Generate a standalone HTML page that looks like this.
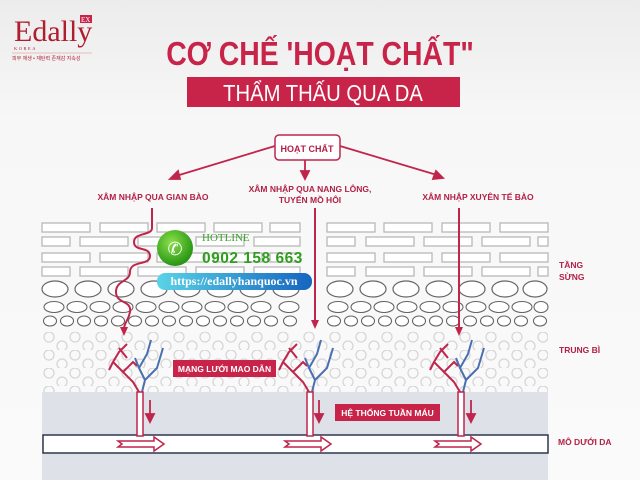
<!DOCTYPE html>
<html><head><meta charset="utf-8"><style>
html,body{margin:0;padding:0;background:#f4f4f4;}
svg{display:block}
text{font-family:"Liberation Sans","DejaVu Sans",sans-serif}
</style></head><body>
<svg width="640" height="480" viewBox="0 0 640 480" xmlns="http://www.w3.org/2000/svg">
<defs>
<linearGradient id="bg" x1="0" y1="0" x2="0" y2="1"><stop offset="0" stop-color="#ececec"/><stop offset="0.25" stop-color="#f7f7f7"/><stop offset="1" stop-color="#fafafa"/></linearGradient>
<pattern id="dots" x="42" y="332" width="26" height="18" patternUnits="userSpaceOnUse">
<circle cx="7" cy="5" r="5" fill="none" stroke="#d6d6d6" stroke-width="1.3"/>
<circle cx="20" cy="14" r="5" fill="none" stroke="#d6d6d6" stroke-width="1.3"/>
</pattern>
<linearGradient id="pill" x1="0" y1="0" x2="1" y2="0"><stop offset="0" stop-color="#5ad3e6"/><stop offset="1" stop-color="#1565c0"/></linearGradient>
<radialGradient id="grn" cx="0.4" cy="0.35" r="0.7"><stop offset="0" stop-color="#8be04a"/><stop offset="1" stop-color="#1f8f10"/></radialGradient>
<g id="cap">
<path d="M0,0 L-6,-10 L-16,-20 L-26,-30 L-20,-40 L-12,-48 M-16,-20 L-6,-30 L-2,-26 M-26,-30 L-30,-22 M-12,-34 L-20,-44" fill="none" stroke="#c0254c" stroke-width="2"/>
<path d="M3,0 L6,-12 L0,-24 L8,-38 L12,-52 M6,-12 L18,-24 L24,-44 M0,-24 L-4,-34" fill="none" stroke="#4a6fb0" stroke-width="2"/>
<rect x="-2" y="0" width="6" height="44" fill="#fff" stroke="#c0254c" stroke-width="1.5"/>
</g>
<g id="flow"><path d="M0,-3 L36,-3 L36,-7 L46,0 L36,7 L36,3 L0,3 L4,0 Z" fill="#fff" stroke="#c0254c" stroke-width="1.5"/></g>
</defs>
<rect width="640" height="480" fill="url(#bg)"/>
<!-- logo -->
<text x="14" y="41" style="font-family:'Liberation Serif',serif" font-size="30" fill="#b01e2e">Edally</text>
<rect x="80" y="15" width="12" height="8" fill="#c8244a"/><text x="81" y="22" font-size="7" fill="#fff" style="font-family:'Liberation Serif',serif">EX</text>
<text x="14" y="50" font-size="4.5" fill="#b01e2e" letter-spacing="1.5" style="font-family:'Liberation Serif',serif">KOREA</text>
<line x1="12" y1="53" x2="92" y2="53" stroke="#d88" stroke-width="0.5"/>
<text x="12" y="60" font-size="5" fill="#b01e2e" style="font-family:'Liberation Sans','Noto Sans CJK KR',sans-serif">피부 재생 • 재탄력 존재감 지속성</text>
<!-- title -->
<text x="320" y="65" text-anchor="middle" font-size="33" font-weight="bold" fill="#c8244a" transform="translate(320 0) scale(0.86 1) translate(-320 0)">CƠ CHẾ 'HOẠT CHẤT"</text>
<rect x="187" y="77" width="273" height="30" fill="#c8244a"/>
<text x="323" y="101" text-anchor="middle" font-size="23" fill="#fff" transform="translate(323 0) scale(0.88 1) translate(-323 0)">THẨM THẤU QUA DA</text>
<!-- hoat chat -->
<rect x="275" y="135" width="65" height="25" rx="4" fill="#fff" stroke="#c0254c" stroke-width="1.5"/>
<text x="307" y="152" text-anchor="middle" font-size="9" font-weight="bold" fill="#b22146">HOẠT CHẤT</text>
<g stroke="#c0254c" stroke-width="1.8" fill="#c0254c">
<line x1="275" y1="146" x2="176" y2="176"/><path d="M170,179 L178,171 L180,179Z"/>
<line x1="305" y1="160" x2="305" y2="172"/><path d="M301,171 L309,171 L305,179Z"/>
<line x1="340" y1="146" x2="437" y2="175"/><path d="M443,178 L433,179 L436,171Z"/>
</g>
<g font-size="8.5" font-weight="bold" fill="#b22146" text-anchor="middle">
<text x="153" y="200">XÂM NHẬP QUA GIAN BÀO</text>
<text x="310" y="192">XÂM NHẬP QUA NANG LÔNG,</text>
<text x="310" y="203">TUYẾN MỒ HÔI</text>
<text x="478" y="200">XÂM NHẬP XUYÊN TẾ BÀO</text>
</g>
<!-- bricks -->
<g fill="#fff" stroke="#b8b8b8" stroke-width="1.3">
<rect x="42" y="223" width="48" height="9"/><rect x="100" y="223" width="48" height="9"/><rect x="157" y="223" width="48" height="9"/><rect x="214" y="223" width="48" height="9"/><rect x="270" y="223" width="30" height="9"/>
<rect x="42" y="237" width="28" height="9"/><rect x="80" y="237" width="48" height="9"/><rect x="138" y="237" width="48" height="9"/><rect x="196" y="237" width="48" height="9"/><rect x="254" y="237" width="46" height="9"/>
<rect x="42" y="253" width="48" height="9"/><rect x="100" y="253" width="48" height="9"/><rect x="157" y="253" width="48" height="9"/><rect x="214" y="253" width="48" height="9"/><rect x="270" y="253" width="30" height="9"/>
<rect x="42" y="267" width="28" height="9"/><rect x="80" y="267" width="48" height="9"/><rect x="138" y="267" width="48" height="9"/><rect x="196" y="267" width="48" height="9"/><rect x="254" y="267" width="46" height="9"/>
<rect x="327" y="223" width="48" height="9"/><rect x="384" y="223" width="48" height="9"/><rect x="442" y="223" width="48" height="9"/><rect x="500" y="223" width="48" height="9"/>
<rect x="327" y="237" width="28" height="9"/><rect x="366" y="237" width="48" height="9"/><rect x="424" y="237" width="48" height="9"/><rect x="482" y="237" width="48" height="9"/><rect x="538" y="237" width="10" height="9"/>
<rect x="327" y="253" width="48" height="9"/><rect x="384" y="253" width="48" height="9"/><rect x="442" y="253" width="48" height="9"/><rect x="500" y="253" width="48" height="9"/>
<rect x="327" y="267" width="28" height="9"/><rect x="366" y="267" width="48" height="9"/><rect x="424" y="267" width="48" height="9"/><rect x="482" y="267" width="48" height="9"/><rect x="538" y="267" width="10" height="9"/>
</g>
<!-- ovals -->
<g fill="#fff" stroke="#666" stroke-width="1.2">
<ellipse cx="55" cy="289" rx="13" ry="8"/><ellipse cx="88" cy="289" rx="13" ry="8"/><ellipse cx="121" cy="289" rx="13" ry="8"/><ellipse cx="154" cy="289" rx="13" ry="8"/><ellipse cx="187" cy="289" rx="13" ry="8"/><ellipse cx="220" cy="289" rx="13" ry="8"/><ellipse cx="253" cy="289" rx="13" ry="8"/><ellipse cx="286" cy="289" rx="13" ry="8"/>
<ellipse cx="340" cy="289" rx="13" ry="8"/><ellipse cx="373" cy="289" rx="13" ry="8"/><ellipse cx="406" cy="289" rx="13" ry="8"/><ellipse cx="439" cy="289" rx="13" ry="8"/><ellipse cx="472" cy="289" rx="13" ry="8"/><ellipse cx="505" cy="289" rx="13" ry="8"/><ellipse cx="535" cy="289" rx="12" ry="8"/>
</g>
<g fill="#fff" stroke="#666" stroke-width="1.1">
<ellipse cx="54" cy="307" rx="10" ry="5.5"/><ellipse cx="77" cy="307" rx="10" ry="5.5"/><ellipse cx="100" cy="307" rx="10" ry="5.5"/><ellipse cx="123" cy="307" rx="10" ry="5.5"/><ellipse cx="146" cy="307" rx="10" ry="5.5"/><ellipse cx="169" cy="307" rx="10" ry="5.5"/><ellipse cx="192" cy="307" rx="10" ry="5.5"/><ellipse cx="215" cy="307" rx="10" ry="5.5"/><ellipse cx="238" cy="307" rx="10" ry="5.5"/><ellipse cx="261" cy="307" rx="10" ry="5.5"/><ellipse cx="289" cy="307" rx="10" ry="5.5"/>
<ellipse cx="338" cy="307" rx="10" ry="5.5"/><ellipse cx="361" cy="307" rx="10" ry="5.5"/><ellipse cx="384" cy="307" rx="10" ry="5.5"/><ellipse cx="407" cy="307" rx="10" ry="5.5"/><ellipse cx="430" cy="307" rx="10" ry="5.5"/><ellipse cx="453" cy="307" rx="10" ry="5.5"/><ellipse cx="476" cy="307" rx="10" ry="5.5"/><ellipse cx="499" cy="307" rx="10" ry="5.5"/><ellipse cx="522" cy="307" rx="10" ry="5.5"/><ellipse cx="541" cy="307" rx="7" ry="5.5"/>
<ellipse cx="50" cy="321" rx="6.5" ry="5"/><ellipse cx="67" cy="321" rx="6.5" ry="5"/><ellipse cx="84" cy="321" rx="6.5" ry="5"/><ellipse cx="101" cy="321" rx="6.5" ry="5"/><ellipse cx="118" cy="321" rx="6.5" ry="5"/><ellipse cx="135" cy="321" rx="6.5" ry="5"/><ellipse cx="152" cy="321" rx="6.5" ry="5"/><ellipse cx="169" cy="321" rx="6.5" ry="5"/><ellipse cx="186" cy="321" rx="6.5" ry="5"/><ellipse cx="203" cy="321" rx="6.5" ry="5"/><ellipse cx="220" cy="321" rx="6.5" ry="5"/><ellipse cx="237" cy="321" rx="6.5" ry="5"/><ellipse cx="254" cy="321" rx="6.5" ry="5"/><ellipse cx="271" cy="321" rx="6.5" ry="5"/><ellipse cx="290" cy="321" rx="6.5" ry="5"/>
<ellipse cx="334" cy="321" rx="6.5" ry="5"/><ellipse cx="351" cy="321" rx="6.5" ry="5"/><ellipse cx="368" cy="321" rx="6.5" ry="5"/><ellipse cx="385" cy="321" rx="6.5" ry="5"/><ellipse cx="402" cy="321" rx="6.5" ry="5"/><ellipse cx="419" cy="321" rx="6.5" ry="5"/><ellipse cx="436" cy="321" rx="6.5" ry="5"/><ellipse cx="453" cy="321" rx="6.5" ry="5"/><ellipse cx="470" cy="321" rx="6.5" ry="5"/><ellipse cx="487" cy="321" rx="6.5" ry="5"/><ellipse cx="504" cy="321" rx="6.5" ry="5"/><ellipse cx="521" cy="321" rx="6.5" ry="5"/><ellipse cx="540" cy="321" rx="6.5" ry="5"/>
</g>
<rect x="42" y="332" width="506" height="60" fill="url(#dots)"/>
<!-- gray dermis -->
<rect x="42" y="392" width="506" height="88" fill="#dfe1e9"/>
<rect x="43" y="435" width="505" height="18" fill="#fff" stroke="#2e3550" stroke-width="1.5"/>
<!-- capillaries -->
<use href="#cap" x="139" y="392"/><use href="#cap" x="309" y="392"/><use href="#cap" x="460" y="392"/>
<use href="#flow" x="118" y="444"/><use href="#flow" x="285" y="444"/><use href="#flow" x="435" y="444"/>
<g stroke="#c0254c" stroke-width="1.8" fill="#c0254c">
<line x1="150" y1="400" x2="150" y2="416"/><path d="M146,414 L154,414 L150,422Z"/>
<line x1="319" y1="400" x2="319" y2="416"/><path d="M315,414 L323,414 L319,422Z"/>
<line x1="471" y1="400" x2="471" y2="416"/><path d="M467,414 L475,414 L471,422Z"/>
</g>
<!-- penetration lines -->
<g stroke="#c0254c" stroke-width="2" fill="none">
<path d="M152,208 L152,228 C152,236 134,232 134,242 C134,252 150,246 150,256 C150,266 130,260 130,272 C130,282 116,280 116,292 C116,304 132,300 130,312 C128,322 124,322 124,330"/>
<line x1="315" y1="208" x2="315" y2="322"/>
<line x1="459" y1="208" x2="459" y2="330"/>
</g>
<g fill="#c0254c"><path d="M120,327 L128,327 L124,336Z"/><path d="M311,320 L319,320 L315,329Z"/><path d="M455,327 L463,327 L459,336Z"/></g>
<!-- labels -->
<rect x="173" y="360" width="103" height="17" fill="#c8244a"/>
<text x="224.5" y="372" text-anchor="middle" font-size="8.5" font-weight="bold" fill="#fff">MẠNG LƯỚI MAO DẪN</text>
<rect x="335" y="404" width="105" height="17" fill="#c8244a"/>
<text x="387.5" y="416" text-anchor="middle" font-size="8.5" font-weight="bold" fill="#fff">HỆ THỐNG TUẦN MÁU</text>
<g font-size="8.5" font-weight="bold" fill="#b22146">
<text x="559" y="268">TẦNG</text><text x="559" y="280">SỪNG</text>
<text x="559" y="353">TRUNG BÌ</text>
<text x="558" y="445">MÔ DƯỚI DA</text>
</g>
<!-- hotline overlay -->
<circle cx="175" cy="248" r="18" fill="url(#grn)"/>
<text x="175" y="255" text-anchor="middle" font-size="18" fill="#fff" style="font-family:'DejaVu Sans',sans-serif">✆</text>
<text x="202" y="241" style="font-family:'Liberation Serif',serif" font-size="11" fill="#3aa02a">HOTLINE</text>
<text x="202" y="263" font-size="15.5" font-weight="bold" fill="#2f9e1e" letter-spacing="0.5">0902 158 663</text>
<rect x="157" y="273" width="155" height="17" rx="8" fill="url(#pill)"/>
<text x="234" y="285" text-anchor="middle" style="font-family:'Liberation Serif',serif" font-size="12" font-weight="bold" fill="#fff">https://edallyhanquoc.vn</text>
</svg>
</body></html>
